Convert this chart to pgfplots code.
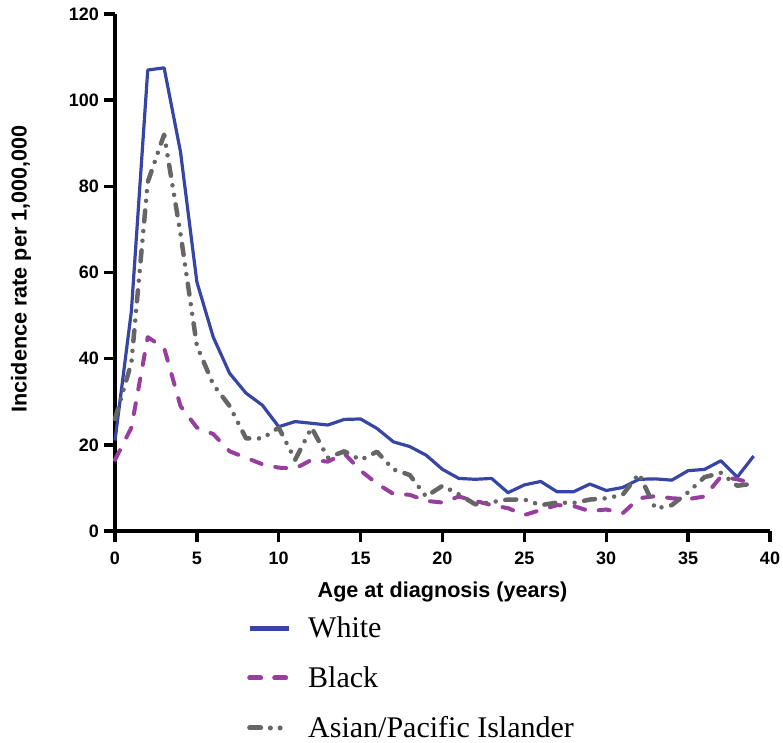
\documentclass[border=0pt]{standalone}
\usepackage{fontspec}
\setmainfont{Liberation Serif}
\setsansfont{Liberation Sans}
\usepackage{pgfplots}
\pgfplotsset{compat=1.18}

\definecolor{cwhite}{RGB}{55,70,165}
\definecolor{cblack}{RGB}{152,62,158}
\definecolor{casian}{RGB}{102,102,102}

\pgfplotstableread{
age white black asian
0  21.0  16.5 26.0
1  51.0  24.0 39.0
2  107.0 45.0 81.0
3  107.5 42.5 92.0
4  88.0  29.0 69.0
5  57.8  24.0 43.0
6  45.0  22.5 34.0
7  36.6  18.5 29.0
8  32.0  17.0 21.5
9  29.2  15.5 21.5
10 24.2  14.7 24.0
11 25.4  14.5 16.5
12 25.0  16.5 24.0
13 24.6  16.1 17.0
14 25.9  18.0 18.5
15 26.0  14.0 16.5
16 23.8  11.0 18.4
17 20.7  8.6  14.3
18 19.6  8.4  13.0
19 17.6  7.0  8.0
20 14.3  6.6  10.5
21 12.2  8.0  8.5
22 12.0  7.0  6.2
23 12.2  6.0  6.7
24 8.9   5.3  7.3
25 10.7  3.7  7.3
26 11.5  4.9  6.0
27 9.1   6.0  6.6
28 9.1   5.8  6.5
29 10.9  4.6  7.3
30 9.4   5.0  7.6
31 10.1  4.1  8.4
32 12.0  7.6  13.3
33 12.1  8.1  5.2
34 11.8  7.6  6.0
35 14.0  7.4  9.0
36 14.3  8.0  12.5
37 16.3  12.6 13.5
38 12.5  12.0 10.5
39 17.4  11.0 11.0
}\rates

\newcommand{\labfont}{\sffamily\bfseries\fontsize{21.6bp}{24bp}\selectfont}

\begin{document}
\begin{tikzpicture}
\path[use as bounding box] (-115bp,-212bp) rectangle (668bp,531bp);
\begin{axis}[
  scale only axis, width=655bp, height=517bp,
  xmin=0, xmax=40, ymin=0, ymax=120,
  xtick={0,5,...,40}, ytick={0,20,...,120},
  axis lines=left, axis line style={-, line width=3.5bp},
  every tick/.style={black, line width=3.5bp},
  major tick length=11bp, tick align=outside,
  /pgf/number format/assume math mode=true,
  tick label style={font=\sffamily\bfseries\fontsize{18bp}{20bp}\selectfont, inner sep=0pt},
  xticklabel shift=10bp, yticklabel shift=5bp,
  every axis x label/.style={at={(axis description cs:0.5,-0.118)}, anchor=center, font=\labfont},
  every axis y label/.style={at={(axis description cs:-0.1435,0.507)}, anchor=center, rotate=90, font=\labfont},
  xlabel={Age at diagnosis (years)},
  ylabel={Incidence rate per 1,000,000},
  clip=false,
  legend style={at={(axis description cs:0.2015,-0.166)}, anchor=north west,
    draw=none, fill=none, inner sep=0pt, row sep=27.5bp,
    font=\fontsize{30bp}{32bp}\selectfont,
    nodes={inner sep=0pt},
    /tikz/every odd column/.append style={column sep=17bp}},
  legend cell align=left,
  legend image code/.code={\draw[#1, line width=5bp] (0bp,0bp) -- (39bp,0bp);},
]
\addplot[cwhite, line width=3.2bp, line join=round] table[x=age, y=white] {\rates};
\addlegendentry{White}
\addplot[cblack, line width=4bp, line cap=round, line join=round,
  dash pattern=on 11bp off 14bp] table[x=age, y=black] {\rates};
\addlegendentry{Black}
\addplot[casian, line width=4.5bp, line cap=round, line join=round,
  dash pattern=on 11bp off 9.7bp on 0bp off 9.7bp on 0bp off 9.7bp] table[x=age, y=asian] {\rates};
\addlegendentry{Asian/Pacific Islander}
\end{axis}
\end{tikzpicture}
\end{document}
